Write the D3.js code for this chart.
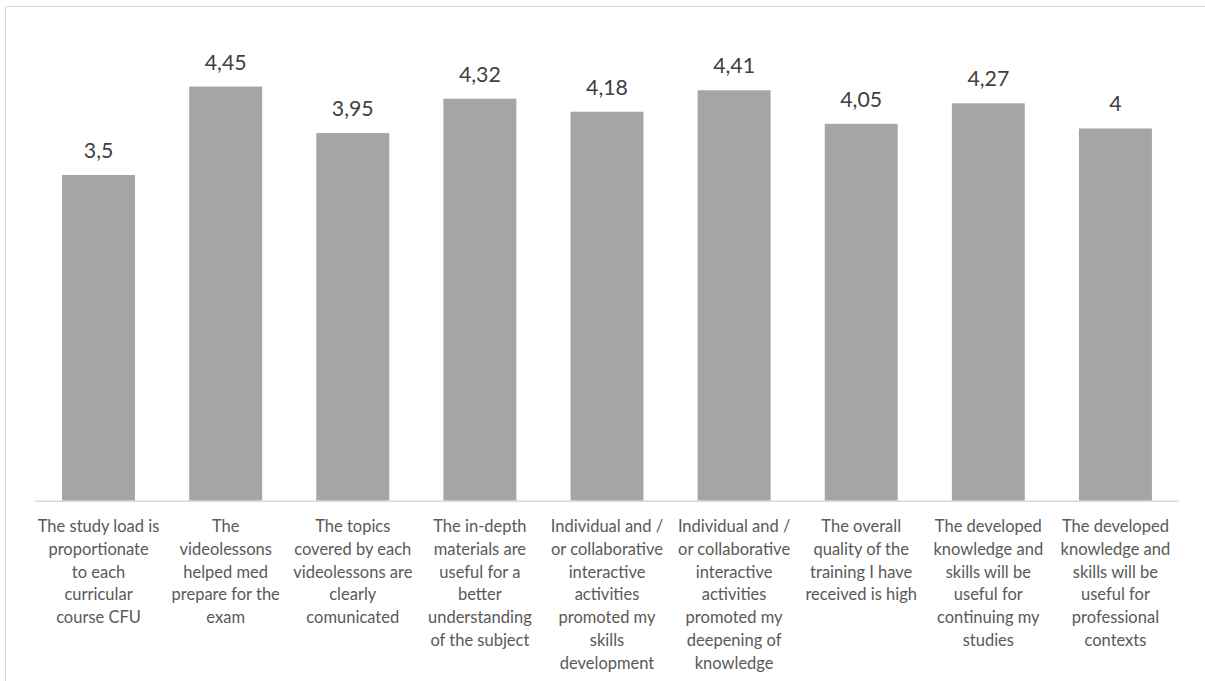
<!DOCTYPE html>
<html>
<head>
<meta charset="utf-8">
<script src="https://cdn.jsdelivr.net/npm/d3@7"></script>
<style>
  html, body { margin: 0; padding: 0; background: #ffffff; }
  svg { display: block; }
  text { font-family: Lato, "Open Sans", sans-serif; }
</style>
</head>
<body>
<svg id="chart" width="1205" height="681"></svg>
<script>
// Survey statements (line breaks mark where each label wraps)
const categories = [
  "The study load is\nproportionate\nto each\ncurricular\ncourse CFU",
  "The\nvideolessons\nhelped med\nprepare for the\nexam",
  "The topics\ncovered by each\nvideolessons are\nclearly\ncomunicated",
  "The in-depth\nmaterials are\nuseful for a\nbetter\nunderstanding\nof the subject",
  "Individual and /\nor collaborative\ninteractive\nactivities\npromoted my\nskills\ndevelopment",
  "Individual and /\nor collaborative\ninteractive\nactivities\npromoted my\ndeepening of\nknowledge",
  "The overall\nquality of the\ntraining I have\nreceived is high",
  "The developed\nknowledge and\nskills will be\nuseful for\ncontinuing my\nstudies",
  "The developed\nknowledge and\nskills will be\nuseful for\nprofessional\ncontexts"
];

// Mean score for each statement
const scores = [3.5, 4.45, 3.95, 4.32, 4.18, 4.41, 4.05, 4.27, 4];

// Value axis extent
const yDomain = [0, 5];

const svg = d3.select("#chart");
const W = 1205, H = 681;

// Chart frame (only top and left edges fall inside the view)
svg.append("line")
  .attr("x1", 5.5).attr("x2", W).attr("y1", 6.5).attr("y2", 6.5)
  .attr("stroke", "#d9d9d9").attr("stroke-width", 1);
svg.append("line")
  .attr("x1", 5.5).attr("x2", 5.5).attr("y1", 6.5).attr("y2", H)
  .attr("stroke", "#d9d9d9").attr("stroke-width", 1);

const plot = { left: 35, right: 1179, top: 35.4, bottom: 500.7 };

const x = d3.scaleBand()
  .domain(d3.range(categories.length))
  .range([plot.left, plot.right])
  .paddingInner(0.426)
  .paddingOuter(0.213);

const y = d3.scaleLinear()
  .domain(yDomain)
  .range([plot.bottom, plot.top]);

// Bars
svg.append("g")
  .selectAll("rect")
  .data(scores)
  .join("rect")
  .attr("x", (d, i) => x(i))
  .attr("y", d => y(d))
  .attr("width", x.bandwidth())
  .attr("height", d => y(0) - y(d))
  .attr("fill", "#a5a5a5");

// Category axis line
svg.append("line")
  .attr("x1", plot.left).attr("x2", plot.right)
  .attr("y1", y(0) + 0.5).attr("y2", y(0) + 0.5)
  .attr("stroke", "#d9d9d9").attr("stroke-width", 1.5);

// Value labels above bars (decimal comma)
const fmt = v => String(v).replace(".", ",");
svg.append("g")
  .selectAll("text")
  .data(scores)
  .join("text")
  .attr("x", (d, i) => x(i) + x.bandwidth() / 2)
  .attr("y", d => y(d) - 17)
  .attr("text-anchor", "middle")
  .attr("font-size", "21.3px")
  .attr("fill", "#404040")
  .text(d => fmt(d));

// Wrapped category labels
const lineH = 22.8;
const labels = svg.append("g")
  .selectAll("text")
  .data(categories)
  .join("text")
  .attr("x", (d, i) => x(i) + x.bandwidth() / 2)
  .attr("y", 532)
  .attr("text-anchor", "middle")
  .attr("font-size", "16.5px")
  .attr("fill", "#595959");

labels.each(function(d) {
  const t = d3.select(this);
  const cx = t.attr("x");
  d.split("\n").forEach((line, k) => {
    t.append("tspan")
      .attr("x", cx)
      .attr("dy", k === 0 ? 0 : lineH)
      .text(line);
  });
});
</script>
</body>
</html>
